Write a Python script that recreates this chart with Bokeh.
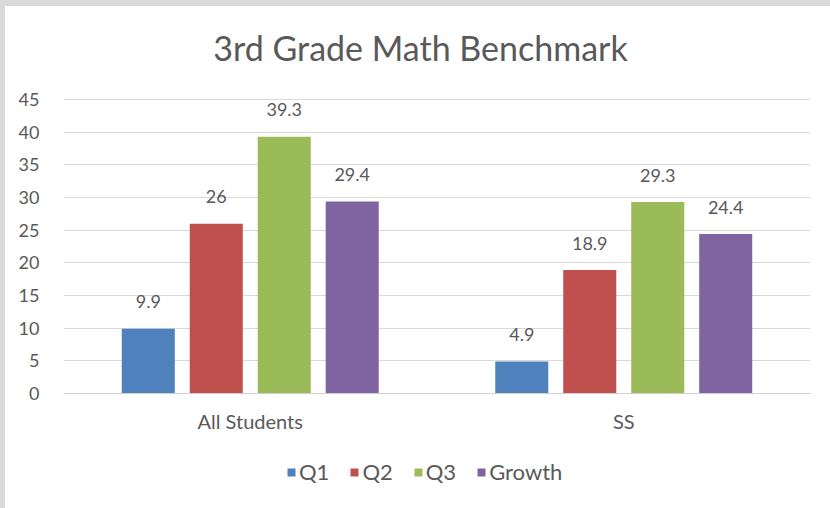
from bokeh.plotting import figure
from bokeh.models import (ColumnDataSource, LabelSet, Legend, LegendItem, FactorRange,
                          FixedTicker, Span, Label)
from bokeh.core.properties import value
from bokeh.transform import dodge
from bokeh.embed import file_html
from bokeh.resources import INLINE

categories = ["All Students", "SS"]
series = ["Q1", "Q2", "Q3", "Growth"]
q1 = [9.9, 4.9]
q2 = [26, 18.9]
q3 = [39.3, 29.3]
growth = [29.4, 24.4]
colors = ["#4f81bd", "#c0504d", "#9bbb59", "#8064a2"]
y_ticks = [0, 5, 10, 15, 20, 25, 30, 35, 40, 45]
title_text = "3rd Grade Math Benchmark"

FONT = "Lato"
TXT = "#595959"

# layout constants (pixels)
TOP_PX = 85            # frame space above the 45 line (holds the title)
BOTTOM_PX = 100        # frame space below the 0 line (category labels + legend)
AXIS_PX = 294          # pixels spanned by 0..45
FRAME_H = TOP_PX + AXIS_PX + BOTTOM_PX
FRAME_W = 747
PX_PER_UNIT = AXIS_PX / 45.0
y_bottom = -BOTTOM_PX / PX_PER_UNIT
y_top = 45 + TOP_PX / PX_PER_UNIT
cat_label_y = -27 / PX_PER_UNIT
title_y = 45 + 52 / PX_PER_UNIT
title_x = 357 / (FRAME_W / 2.0)   # synthetic categorical coordinate

src = ColumnDataSource(dict(cat=categories, Q1=q1, Q2=q2, Q3=q3, Growth=growth,
                            Q1_l=[f"{v:g}" for v in q1], Q2_l=[f"{v:g}" for v in q2],
                            Q3_l=[f"{v:g}" for v in q3], Growth_l=[f"{v:g}" for v in growth]))

p = figure(x_range=FactorRange(*categories, range_padding=0), y_range=(y_bottom, y_top),
           frame_width=FRAME_W, frame_height=FRAME_H, output_backend="svg", toolbar_location=None,
           min_border_left=58, min_border_right=20, min_border_top=8, min_border_bottom=15)
p.outline_line_color = None
p.background_fill_color = "white"
p.border_fill_color = "white"

p.add_layout(Label(x=title_x, y=title_y, text=title_text, text_align="center",
                   text_baseline="middle", text_font=FONT, text_font_size="34px",
                   text_color=TXT))

p.add_layout(Span(location=0, dimension="width", line_color="#d0d0d0", line_width=1))

offsets = [-0.273, -0.091, 0.091, 0.273]
items = []
for s, c, off in zip(series, colors, offsets):
    r = p.vbar(x=dodge("cat", off, range=p.x_range), top=s, width=0.142, source=src,
               fill_color=c, line_color=None)
    items.append(LegendItem(label=s, renderers=[r]))
    lbl = LabelSet(x=dodge("cat", off, range=p.x_range), y=s, text=s + "_l", source=src,
                   text_align="center", text_baseline="middle", y_offset=27,
                   text_font=value(FONT), text_font_size=value("18px"), text_color=TXT)
    p.add_layout(lbl)

# category labels
p.text(x=categories, y=[cat_label_y] * len(categories), text=categories,
       text_align="center", text_baseline="middle", text_font=value(FONT),
       text_font_size="20px", text_color=TXT)

p.xaxis.visible = False
p.yaxis.ticker = FixedTicker(ticks=y_ticks)
p.yaxis.axis_line_color = None
p.yaxis.major_tick_line_color = None
p.yaxis.minor_tick_line_color = None
p.yaxis.major_label_text_font = FONT
p.yaxis.major_label_text_font_size = "18px"
p.yaxis.major_label_text_color = TXT
p.yaxis.major_label_standoff = 18

p.xgrid.grid_line_color = None
p.ygrid.grid_line_color = "#d9d9d9"

legend = Legend(items=items, orientation="horizontal", location=(223, 8),
                label_text_font=FONT, label_text_font_size="22px", label_text_color=TXT,
                glyph_width=10, glyph_height=10, label_standoff=3, spacing=20,
                border_line_color=None, background_fill_alpha=0, margin=0, padding=0)
p.add_layout(legend, "center")

html = file_html(p, INLINE)
html = html.replace("</head>", "<style>html{background:#ffffff;} body{margin:0;padding:0;border-top:6px solid #d9d9d9;border-left:5px solid #d9d9d9;background:#ffffff;}</style></head>", 1)
open("out.html", "w").write(html)
